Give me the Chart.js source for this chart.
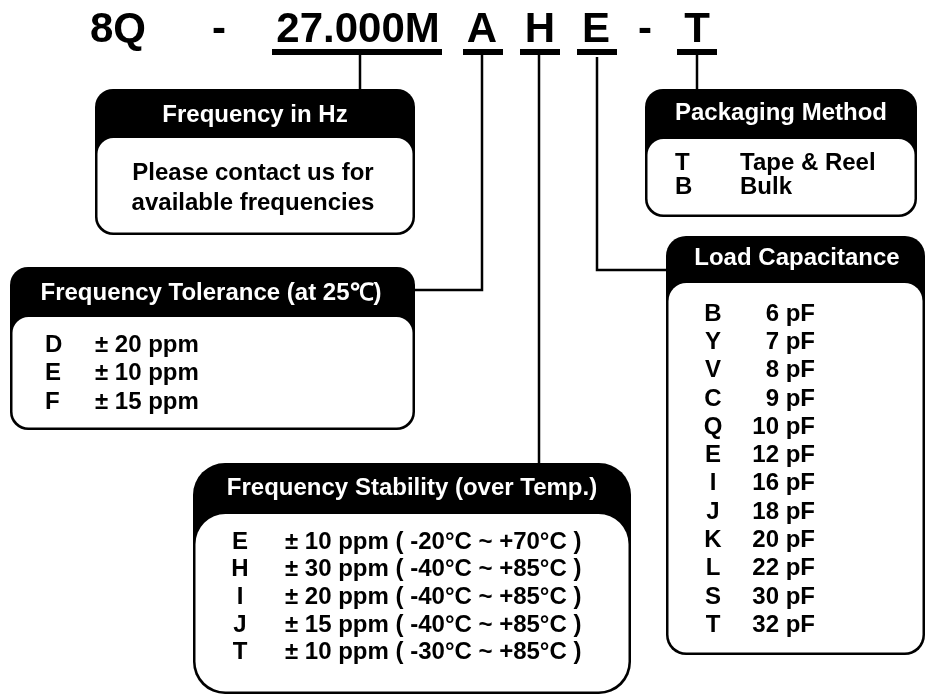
<!DOCTYPE html>
<html>
<head>
<meta charset="utf-8">
<script src="https://cdn.jsdelivr.net/npm/chart.js@4.4.1/dist/chart.umd.min.js"></script>
<style>
  html, body { margin: 0; padding: 0; background: #fff; }
  #wrap { width: 927px; height: 697px; }
</style>
</head>
<body>
<div id="wrap"><canvas id="chart" width="927" height="697"></canvas></div>
<script>
// ordering code parts
const partCode = ['8Q', '-', '27.000M', 'A', 'H', 'E', '-', 'T'];

// box titles
const boxTitles = [
  'Frequency in Hz',
  'Packaging Method',
  'Frequency Tolerance (at 25\u2103)',
  'Load Capacitance',
  'Frequency Stability (over Temp.)'
];

const freqNote = ['Please contact us for', 'available frequencies'];

const packCodes = ['T', 'B'];
const packValues = ['Tape & Reel', 'Bulk'];

const toleranceCodes = ['D', 'E', 'F'];
const toleranceValues = ['\u00b1 20 ppm', '\u00b1 10 ppm', '\u00b1 15 ppm'];

const loadCodes = ['B', 'Y', 'V', 'C', 'Q', 'E', 'I', 'J', 'K', 'L', 'S', 'T'];
const loadValues = ['6 pF', '7 pF', '8 pF', '9 pF', '10 pF', '12 pF', '16 pF', '18 pF', '20 pF', '22 pF', '30 pF', '32 pF'];

const stabilityCodes = ['E', 'H', 'I', 'J', 'T'];
const stabilityValues = [
  '\u00b1 10 ppm ( -20\u00b0C ~ +70\u00b0C )',
  '\u00b1 30 ppm ( -40\u00b0C ~ +85\u00b0C )',
  '\u00b1 20 ppm ( -40\u00b0C ~ +85\u00b0C )',
  '\u00b1 15 ppm ( -40\u00b0C ~ +85\u00b0C )',
  '\u00b1 10 ppm ( -30\u00b0C ~ +85\u00b0C )'
];

// layout (in scale units, 1 unit = 1 px)
const FONT = '"Liberation Sans", Arial, sans-serif';
const partX = [118, 219, 358, 482, 540, 596, 645, 697];
const partBaseline = 42;
const underlines = [[272, 442], [463, 503], [520, 560], [577, 617], [677, 717]];
const underlineY = 49;

const boxLayout = [
  { l: 95, t: 89, r: 415, b: 235, band: 138, rad: 18, tx: 255, ty: 115 },
  { l: 645, t: 89, r: 917, b: 217, band: 139, rad: 18, tx: 781, ty: 113 },
  { l: 10, t: 267, r: 415, b: 430, band: 317, rad: 18, tx: 211, ty: 293 },
  { l: 666, t: 236, r: 925, b: 655, band: 283, rad: 20, tx: 797, ty: 258 },
  { l: 193, t: 463, r: 631, b: 694, band: 514, rad: 32, tx: 412, ty: 488 }
];

const connectors = [
  [[360, 54], [360, 89]],
  [[482, 54], [482, 290], [415, 290]],
  [[539, 54], [539, 463]],
  [[597, 57], [597, 270], [666, 270]],
  [[697, 54], [697, 89]]
];

function roundRectPath(ctx, x, y, w, h, r) {
  ctx.beginPath();
  ctx.moveTo(x + r, y);
  ctx.lineTo(x + w - r, y);
  ctx.arcTo(x + w, y, x + w, y + r, r);
  ctx.lineTo(x + w, y + h - r);
  ctx.arcTo(x + w, y + h, x + w - r, y + h, r);
  ctx.lineTo(x + r, y + h);
  ctx.arcTo(x, y + h, x, y + h - r, r);
  ctx.lineTo(x, y + r);
  ctx.arcTo(x, y, x + r, y, r);
  ctx.closePath();
}

const orderingCodePlugin = {
  id: 'orderingCode',
  afterDraw(chart) {
    const ctx = chart.ctx;
    const sx = chart.scales.x, sy = chart.scales.y;
    const X = v => sx.getPixelForValue(v);
    const Y = v => sy.getPixelForValue(v);
    ctx.save();
    ctx.fillStyle = '#000';
    ctx.strokeStyle = '#000';

    // part code
    ctx.font = 'bold 42px ' + FONT;
    ctx.textAlign = 'center';
    ctx.textBaseline = 'alphabetic';
    partCode.forEach((p, i) => ctx.fillText(p, X(partX[i]), Y(partBaseline)));
    underlines.forEach(u => {
      ctx.fillRect(X(u[0]), Y(underlineY), X(u[1]) - X(u[0]), 6);
    });

    // connectors
    ctx.lineWidth = 2.5;
    connectors.forEach(pts => {
      ctx.beginPath();
      pts.forEach((p, i) => i ? ctx.lineTo(X(p[0]), Y(p[1])) : ctx.moveTo(X(p[0]), Y(p[1])));
      ctx.stroke();
    });

    // boxes
    boxLayout.forEach((b, i) => {
      const l = X(b.l), t = Y(b.t), r = X(b.r), bt = Y(b.b), band = Y(b.band);
      ctx.fillStyle = '#000';
      roundRectPath(ctx, l, t, r - l, bt - t, b.rad);
      ctx.fill();
      ctx.fillStyle = '#fff';
      roundRectPath(ctx, l + 2.5, band, r - l - 5, bt - band - 2.5, b.rad - 2);
      ctx.fill();
      ctx.font = 'bold 24px ' + FONT;
      ctx.textAlign = 'center';
      ctx.textBaseline = 'middle';
      ctx.fillText(boxTitles[i], X(b.tx), Y(b.ty));
    });

    ctx.fillStyle = '#000';
    ctx.font = 'bold 24px ' + FONT;
    ctx.textBaseline = 'middle';

    // frequency note
    ctx.textAlign = 'center';
    freqNote.forEach((s, i) => ctx.fillText(s, X(253), Y(173 + i * 30)));

    // packaging
    packCodes.forEach((c, i) => {
      ctx.textAlign = 'left';
      ctx.fillText(c, X(675), Y(163 + i * 24));
      ctx.fillText(packValues[i], X(740), Y(163 + i * 24));
    });

    // tolerance
    toleranceCodes.forEach((c, i) => {
      ctx.textAlign = 'left';
      ctx.fillText(c, X(45), Y(345 + i * 28.5));
      ctx.fillText(toleranceValues[i], X(95), Y(345 + i * 28.5));
    });

    // load capacitance
    loadCodes.forEach((c, i) => {
      const yy = Y(314 + i * 28.3);
      ctx.textAlign = 'center';
      ctx.fillText(c, X(713), yy);
      ctx.textAlign = 'right';
      ctx.fillText(loadValues[i], X(815), yy);
    });

    // stability
    stabilityCodes.forEach((c, i) => {
      const yy = Y(542 + i * 27.7);
      ctx.textAlign = 'center';
      ctx.fillText(c, X(240), yy);
      ctx.textAlign = 'left';
      ctx.fillText(stabilityValues[i], X(285), yy);
    });

    ctx.restore();
  }
};

new Chart(document.getElementById('chart'), {
  type: 'scatter',
  data: { datasets: [] },
  options: {
    responsive: false,
    animation: false,
    devicePixelRatio: 1,
    layout: { padding: 0 },
    plugins: { legend: { display: false }, tooltip: { enabled: false } },
    scales: {
      x: { type: 'linear', min: 0, max: 927, display: false },
      y: { type: 'linear', min: 0, max: 697, reverse: true, display: false }
    }
  },
  plugins: [orderingCodePlugin]
});
</script>
</body>
</html>
